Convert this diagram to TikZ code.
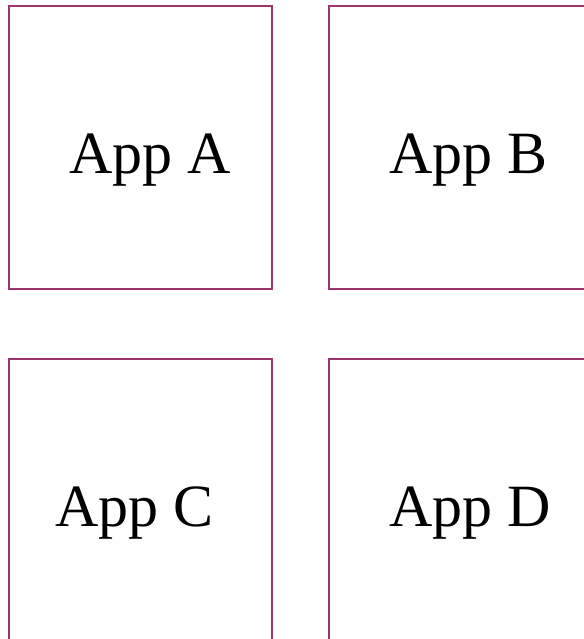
\documentclass[tikz,border=0pt]{standalone}
\usepackage{fontspec}
\setmainfont{Liberation Serif}
\definecolor{boxline}{RGB}{158,52,108}
\tikzset{
  appbox/.style={draw=boxline, line width=2pt, rectangle, inner sep=0pt, minimum width=263pt, minimum height=283pt, anchor=north west},
  applabel/.style={font=\fontsize{60}{62}\selectfont, inner sep=0pt, anchor=base west}
}
\begin{document}
\begin{tikzpicture}[x=1pt,y=-1pt]
\useasboundingbox (0,0) rectangle (583,639);
\node[appbox] (boxA) at (8,5) {};
\node[appbox] (boxB) at (328,5) {};
\node[appbox] (boxC) at (8,358) {};
\node[appbox] (boxD) at (328,358) {};
\node[applabel] (labA) at (69,174) {App A};
\node[applabel] (labB) at (389,174) {App B};
\node[applabel] (labC) at (55,526) {App C};
\node[applabel] (labD) at (389,526) {App D};
\end{tikzpicture}
\end{document}
